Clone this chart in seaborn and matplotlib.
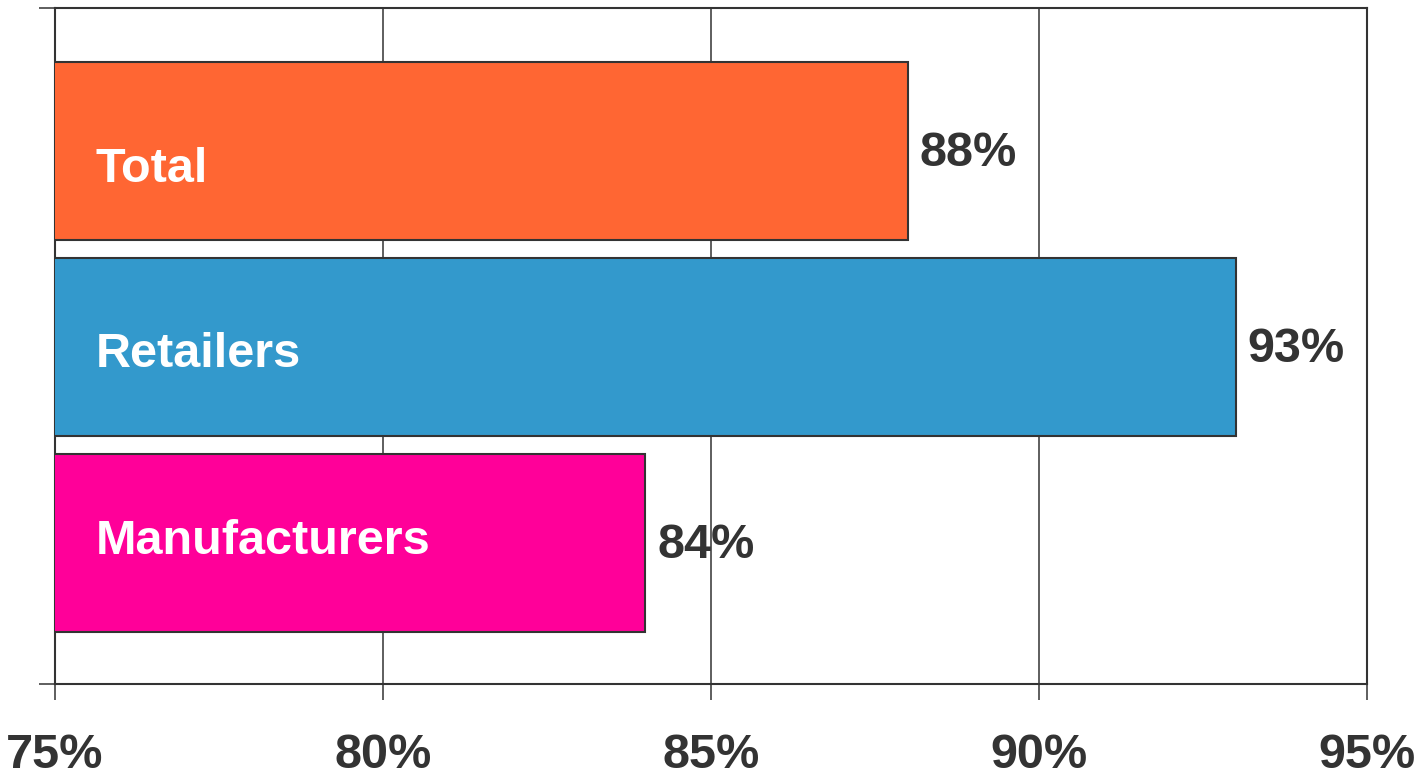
import matplotlib
matplotlib.use("Agg")
import matplotlib.pyplot as plt
import seaborn as sns
import pandas as pd

# Share of respondents by group (percent)
categories = ["Total", "Retailers", "Manufacturers"]
values = [88, 93, 84]
bar_colors = ["#FF6633", "#3399CC", "#FF0099"]
x_ticks = [75, 80, 85, 90, 95]
x_tick_labels = ["75%", "80%", "85%", "90%", "95%"]
label_nudge = [0.095, 0.04, -0.005]

sns.set_theme(style="white")
plt.rcParams["font.family"] = ["Liberation Sans", "DejaVu Sans"]

dark = "#333333"
fig = plt.figure(figsize=(14.23, 7.77), dpi=100)
ax = fig.add_axes([55 / 1423, 1 - 684 / 777, (1367 - 55) / 1423, (684 - 8) / 777])

df = pd.DataFrame({"group": categories, "share": values})
sns.barplot(data=df, x="share", y="group", hue="group", palette=bar_colors,
            saturation=1, orient="h", width=0.908, edgecolor=dark, linewidth=1.5,
            legend=False, ax=ax, zorder=3)

ax.set_xlim(75, 95)
ax.set_ylim(2.72, -0.73)
ax.set_xticks(x_ticks)
ax.set_xticklabels(x_tick_labels, fontsize=35, fontweight="bold", color=dark)
ax.set_yticks([2.72, -0.73])
ax.set_yticklabels(["", ""])
ax.set_xlabel("")
ax.set_ylabel("")

ax.tick_params(axis="x", direction="out", length=11.5, width=1.1, color=dark,
               pad=24, bottom=True)
ax.tick_params(axis="y", direction="out", length=11.5, width=1.1, color=dark,
               left=True)

ax.grid(axis="x", color=dark, linewidth=1.1, zorder=0)
ax.set_axisbelow(True)
for side in ["left", "right", "top", "bottom"]:
    ax.spines[side].set_visible(True)
    ax.spines[side].set_color(dark)
    ax.spines[side].set_linewidth(1.5)

for i, (cat, val) in enumerate(zip(categories, values)):
    ax.text(val + 0.18, i + 0.012, f"{val}%", va="center", ha="left",
            fontsize=35, fontweight="bold", color=dark, zorder=5)
    ax.text(75.62, i + label_nudge[i], cat, va="center", ha="left",
            fontsize=35, fontweight="bold", color="white", zorder=5)

fig.savefig("out.png", dpi=100)
